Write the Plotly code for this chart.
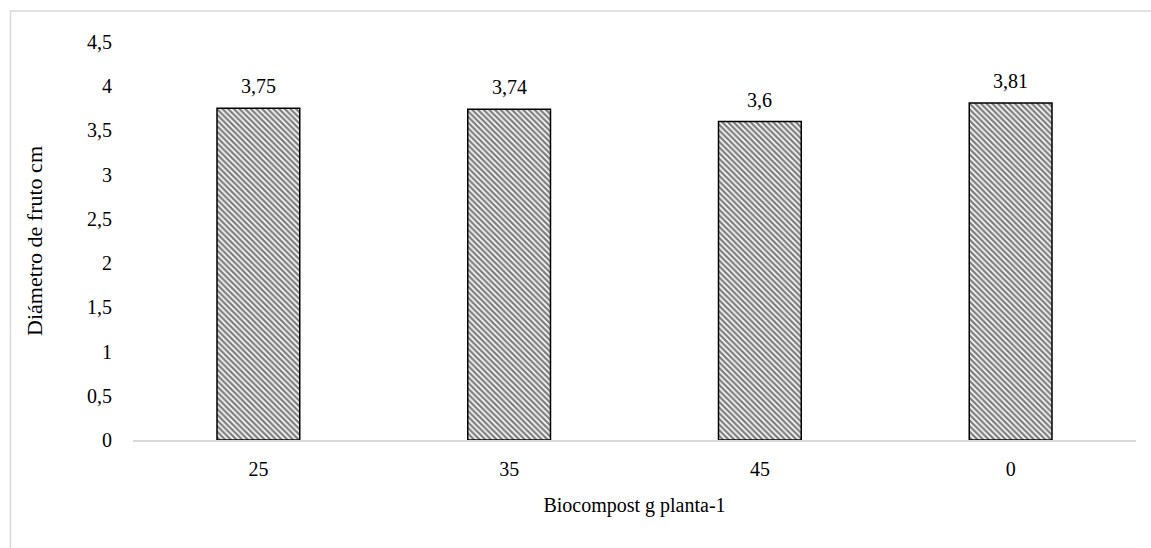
import plotly.graph_objects as go

categories = ["25", "35", "45", "0"]
values = [3.75, 3.74, 3.6, 3.81]
labels = ["3,75", "3,74", "3,6", "3,81"]
y_ticks = [0, 0.5, 1, 1.5, 2, 2.5, 3, 3.5, 4, 4.5]
y_ticktext = ["0", "0,5", "1", "1,5", "2", "2,5", "3", "3,5", "4", "4,5"]

FONT = "Liberation Serif, Times New Roman, serif"
FS = 20

fig = go.Figure(go.Bar(
    x=categories, y=values,
    marker=dict(color="white",
                line=dict(color="black", width=1.5),
                pattern=dict(shape="\\", size=4, solidity=0.6, fgcolor="black", bgcolor="white")),
))

for i, (v, t) in enumerate(zip(values, labels)):
    fig.add_annotation(x=i, y=v, text=t, showarrow=False, yanchor="middle", yshift=22,
                       font=dict(family=FONT, size=FS, color="#000"))

L, R, T, B = 133, 15, 42, 108
W, H = 1151, 548
pw, ph = W - L - R, H - T - B

fig.update_layout(
    width=W, height=H, margin=dict(l=L, r=R, t=T, b=B),
    paper_bgcolor="white", plot_bgcolor="white",
    bargap=0.67, showlegend=False,
    font=dict(family=FONT, size=FS, color="#000"),
    xaxis=dict(type="category", categoryorder="array", categoryarray=categories,
               showgrid=False, showline=True, linecolor="#d9d9d9", linewidth=1.5,
               ticks="", tickfont=dict(size=FS), ticklabelstandoff=10,
               title=dict(text="Biocompost g planta-1", font=dict(size=20), standoff=19)),
    yaxis=dict(range=[0, 4.5], tickvals=y_ticks, ticktext=y_ticktext, showgrid=False,
               zeroline=False, showline=False, ticks="", ticklabelstandoff=20,
               tickfont=dict(size=FS),
               title=dict(text="Diámetro de fruto cm", font=dict(size=22), standoff=38)),
    shapes=[dict(type="rect", xref="paper", yref="paper",
                 x0=(10.5 - L) / pw, x1=(W + 10 - L) / pw,
                 y0=(H - B - (H + 10)) / ph, y1=(H - B - 11) / ph,
                 line=dict(color="#d9d9d9", width=1.5), fillcolor="rgba(0,0,0,0)", layer="below")],
)

fig.write_html("out.html")
